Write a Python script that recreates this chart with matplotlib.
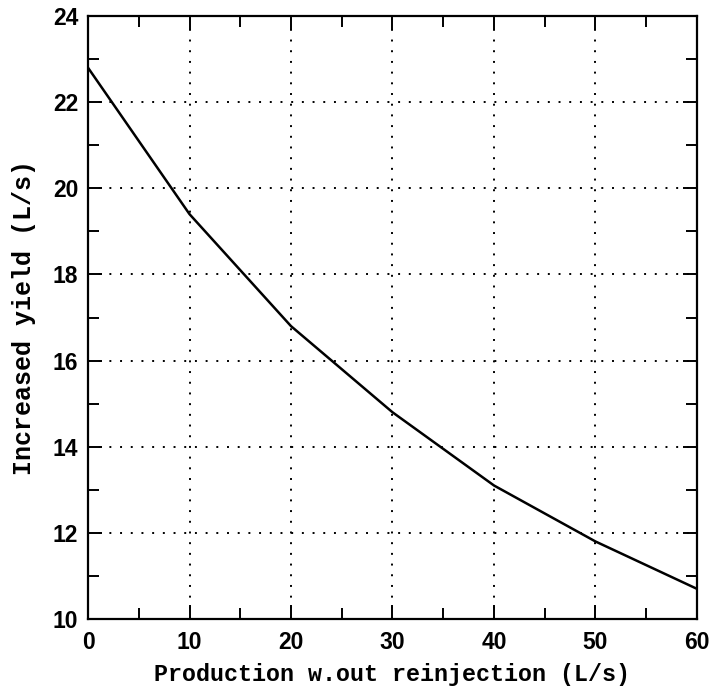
import matplotlib
matplotlib.use("Agg")
import matplotlib.pyplot as plt
from matplotlib.ticker import MultipleLocator

# Production without reinjection (L/s) vs increased yield (L/s)
production = [0, 10, 20, 30, 40, 50, 60]
increased_yield = [22.8, 19.4, 16.8, 14.8, 13.1, 11.8, 10.7]

x_ticks = [0, 10, 20, 30, 40, 50, 60]
y_ticks = [10, 12, 14, 16, 18, 20, 22, 24]

fig = plt.figure(figsize=(7.15, 6.91), dpi=100)
ax = fig.add_axes([0.1231, 0.1042, 0.8517, 0.8726])

ax.plot(production, increased_yield, color="black", linewidth=1.8)

ax.set_xlim(0, 60)
ax.set_ylim(10, 24)
ax.set_xticks(x_ticks)
ax.set_yticks(y_ticks)
ax.xaxis.set_minor_locator(MultipleLocator(5))
ax.yaxis.set_minor_locator(MultipleLocator(1))

ax.grid(which="major", linestyle=(0, (1, 4.5)), color="black", linewidth=1.4)

ax.tick_params(which="both", direction="in", top=True, right=True,
               color="black", width=1.4)
ax.tick_params(which="major", length=10)
ax.tick_params(which="minor", length=8)
ax.tick_params(axis="x", which="major", pad=9)
ax.tick_params(axis="y", which="major", pad=7)

for spine in ax.spines.values():
    spine.set_linewidth(1.6)

for lab in ax.get_xticklabels() + ax.get_yticklabels():
    lab.set_fontfamily("Liberation Sans")
    lab.set_fontweight("bold")
    lab.set_fontsize(16.5)

ax.set_xlabel("Production w.out reinjection (L/s)", family="Liberation Mono",
              weight="bold", fontsize=16.8, labelpad=6)
ax.set_ylabel("Increased yield (L/s)", family="Liberation Mono",
              weight="bold", fontsize=18, labelpad=12)

fig.savefig("out.png", dpi=100)
